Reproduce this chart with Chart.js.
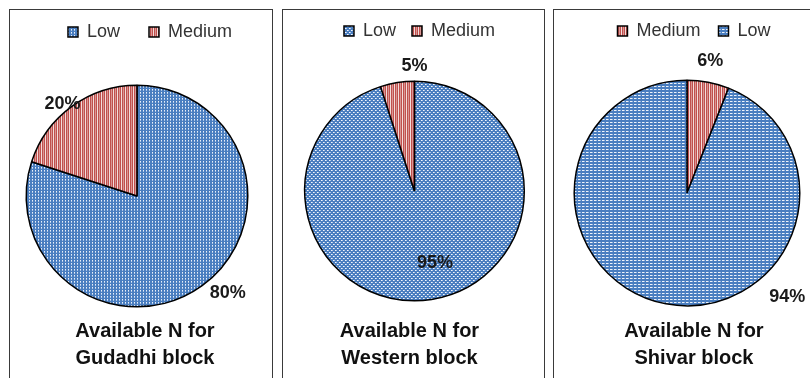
<!DOCTYPE html>
<html><head><meta charset="utf-8">
<script src="https://cdn.jsdelivr.net/npm/chart.js@4/dist/chart.umd.min.js"></script>
<style>
html,body{margin:0;padding:0;background:#fff;width:810px;height:378px;overflow:hidden;}
.panel{position:absolute;top:9px;height:380px;border:1.5px solid #3a3a3a;border-bottom:none;background:#fff;box-sizing:border-box;}
.panel canvas{position:absolute;left:0;top:0;}
</style></head><body>
<div class="panel" id="p1" style="left:9px;width:264px;"><canvas id="c1"></canvas></div>
<div class="panel" id="p2" style="left:282px;width:263px;"><canvas id="c2"></canvas></div>
<div class="panel" id="p3" style="left:553px;width:262px;border-right:none;"><canvas id="c3"></canvas></div>
<script>
// ---- data ----
const gudadhiLabels = ['Low', 'Medium'];
const gudadhiValues = [80, 20];
const westernLabels = ['Low', 'Medium'];
const westernValues = [95, 5];
const shivarLabels = ['Medium', 'Low'];
const shivarValues = [6, 94];
const gudadhiTitle = ['Available N for', 'Gudadhi block'];
const westernTitle = ['Available N for', 'Western block'];
const shivarTitle = ['Available N for', 'Shivar block'];

const FONT = '"Liberation Sans Narrow", "Liberation Sans", Arial, sans-serif';
const BLUE = '#4A7EC0';
const RED = '#C0504D';

function makePattern(kind) {
  const c = document.createElement('canvas');
  const x = c.getContext('2d');
  if (kind === 'red') {
    c.width = 4; c.height = 4;
    x.fillStyle = RED; x.fillRect(0, 0, 4, 4);
    x.fillStyle = '#F2DCDB'; x.fillRect(3, 0, 1, 4);
    x.fillStyle = '#D99694'; x.fillRect(1, 0, 1, 4);
  } else if (kind === 'dots') {
    c.width = 3; c.height = 3;
    x.fillStyle = BLUE; x.fillRect(0, 0, 3, 3);
    x.fillStyle = '#E8EFF8'; x.fillRect(1, 1, 1, 1);
    x.fillStyle = '#AFC6E6'; x.fillRect(1, 2, 1, 1);
  } else if (kind === 'check') {
    c.width = 4; c.height = 4;
    x.fillStyle = BLUE; x.fillRect(0, 0, 4, 4);
    x.fillStyle = '#F4F7FC'; x.fillRect(0, 0, 1, 1); x.fillRect(2, 2, 1, 1);
    x.fillStyle = '#B7CBE7'; x.fillRect(1, 0, 1, 1); x.fillRect(3, 2, 1, 1);
  } else {
    c.width = 4; c.height = 3;
    x.fillStyle = BLUE; x.fillRect(0, 0, 4, 3);
    x.fillStyle = '#EEF3FA'; x.fillRect(0, 1, 2, 1);
    x.fillStyle = '#A3BEE2'; x.fillRect(2, 1, 1, 1);
  }
  return x.createPattern(c, 'repeat');
}

const labelPlugin = {
  id: 'pctLabels',
  afterDatasetsDraw(chart, args, opts) {
    const ctx = chart.ctx;
    const meta = chart.getDatasetMeta(0);
    const data = chart.data.datasets[0].data;
    const total = data.reduce((a, b) => a + b, 0);
    ctx.save();
    ctx.font = 'bold 18px ' + FONT;
    ctx.fillStyle = '#1a1a1a';
    ctx.textAlign = 'center';
    ctx.textBaseline = 'middle';
    meta.data.forEach((arc, i) => {
      const p = opts.place[i];
      const a = p[0] * Math.PI / 180;
      const r = arc.outerRadius * p[1];
      const tx = arc.x + Math.sin(a) * r;
      const ty = arc.y - Math.cos(a) * r;
      ctx.fillText(Math.round(data[i] / total * 100) + '%', tx, ty);
    });
    ctx.restore();
  }
};

// legend box reaches down to a chosen top for the plot area; legend/title nudged sideways
const boxTweak = {
  id: 'boxTweak',
  beforeInit(chart, args, opts) {
    const lg = chart.legend;
    const orig = lg.fit;
    lg.fit = function () {
      orig.call(lg);
      lg.height = opts.areaTop - opts.padTop;
    };
  },
  afterLayout(chart, args, opts) {
    const lg = chart.legend, tt = chart.titleBlock;
    if (lg) { lg.left += opts.legendShift; lg.right += opts.legendShift; }
    if (tt) { tt.left += opts.titleShift; tt.right += opts.titleShift; }
  }
};

function make(id, labels, values, colors, title, place, cfg) {
  const cv = document.getElementById(id);
  const panel = cv.parentElement;
  cv.width = panel.clientWidth; cv.height = 370;
  cv.style.width = cv.width + 'px'; cv.style.height = '370px';
  return new Chart(cv, {
    type: 'pie',
    data: { labels: labels, datasets: [{ data: values, backgroundColor: colors, borderColor: '#000', borderWidth: 1.5 }] },
    plugins: [labelPlugin, boxTweak],
    options: {
      responsive: false, animation: false, devicePixelRatio: 1,
      layout: { padding: { left: cfg.padL, right: cfg.padR, top: cfg.padTop, bottom: 0 } },
      plugins: {
        tooltip: { enabled: false },
        legend: {
          position: 'top',
          labels: { boxWidth: 10, boxHeight: 10, padding: cfg.legPad, color: '#333', font: { family: FONT, size: 18 } }
        },
        title: {
          display: true, position: 'bottom', text: title, color: '#111',
          font: { family: FONT, size: 20, weight: 'bold', lineHeight: 1.36 },
          padding: { top: cfg.tPad, bottom: 8 }
        },
        boxTweak: { areaTop: cfg.areaTop, padTop: cfg.padTop, legendShift: cfg.legShift, titleShift: cfg.titShift },
        pctLabels: { place: place }
      }
    }
  });
}

const blueDots = makePattern('dots');
const blueCheck = makePattern('check');
const blueDash = makePattern('dash');
const redStripe = makePattern('red');

make('c1', gudadhiLabels, gudadhiValues, [blueDots, redStripe], gudadhiTitle, [[137, 1.2], [321, 1.07]],
  { padL: 0, padR: 8, padTop: -16, legPad: 29, areaTop: 74.5, tPad: 10, legShift: 13, titShift: 8 });
make('c2', westernLabels, westernValues, [blueCheck, redStripe], westernTitle, [[164, 0.68], [0, 1.14]],
  { padL: 2, padR: 0, padTop: -4, legPad: 16, areaTop: 70.5, tPad: 16, legShift: 5, titShift: -5 });
make('c3', shivarLabels, shivarValues, [redStripe, blueDash], shivarTitle, [[10, 1.19], [136, 1.28]],
  { padL: 5, padR: 0, padTop: -6, legPad: 18, areaTop: 69.5, tPad: 11, legShift: 7, titShift: 7 });
</script>
</body></html>
